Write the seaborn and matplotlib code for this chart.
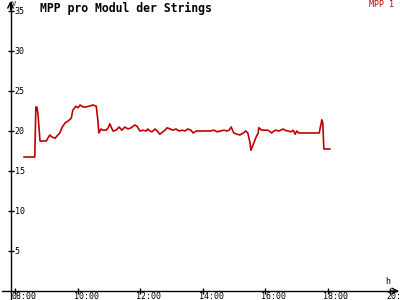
import matplotlib
matplotlib.use('Agg')
import matplotlib.pyplot as plt
import matplotlib.transforms as mtransforms
import seaborn as sns
import pandas as pd

# ---- data ----
times = ["08:17", "08:38", "08:40", "08:42", "08:44", "08:48", "08:54", "09:00",
         "09:03", "09:07", "09:11", "09:17", "09:21", "09:26", "09:30", "09:36",
         "09:42", "09:48", "09:51", "09:57", "10:01", "10:05", "10:11", "10:16",
         "10:22", "10:30", "10:36", "10:39", "10:41", "10:45", "10:49", "10:55",
         "10:59", "11:02", "11:08", "11:14", "11:20", "11:25", "11:31", "11:37",
         "11:43", "11:50", "11:54", "12:00", "12:06", "12:12", "12:15", "12:19",
         "12:23", "12:29", "12:33", "12:38", "12:44", "12:48", "12:52", "12:58",
         "13:03", "13:09", "13:15", "13:21", "13:26", "13:32", "13:38", "13:42",
         "13:48", "14:05", "14:14", "14:22", "14:28", "14:34", "14:41", "14:47",
         "14:51", "14:55", "15:00", "15:06", "15:12", "15:18", "15:23", "15:27",
         "15:31", "15:33", "15:37", "15:43", "15:47", "15:48", "15:54", "16:00",
         "16:06", "16:13", "16:17", "16:21", "16:27", "16:35", "16:38", "16:44",
         "16:50", "16:54", "16:58", "17:01", "17:05", "17:44", "17:48", "17:49",
         "17:51", "17:53", "18:05"]
mpp1 = [16.75, 16.75, 23.0, 23.0, 22.2, 18.75, 18.75, 18.75,
        19.1, 19.5, 19.25, 19.1, 19.4, 19.75, 20.4, 21.0,
        21.25, 21.6, 22.6, 23.1, 22.9, 23.25, 23.0, 23.0,
        23.1, 23.25, 23.1, 21.4, 19.75, 20.25, 20.1, 20.1,
        20.4, 20.9, 20.0, 20.1, 20.5, 20.1, 20.5, 20.25,
        20.4, 20.75, 20.6, 20.0, 20.1, 20.0, 20.25, 20.0,
        19.9, 20.25, 20.0, 19.6, 19.9, 20.1, 20.4, 20.25,
        20.1, 20.25, 20.0, 20.1, 20.0, 20.25, 20.1, 19.75,
        20.0, 20.0, 20.0, 20.1, 19.9, 20.0, 20.1, 20.0,
        20.1, 20.5, 19.75, 19.6, 19.5, 19.75, 20.0, 19.75,
        18.6, 17.6, 18.25, 19.25, 19.75, 20.4, 20.1, 20.1,
        20.1, 19.75, 20.0, 20.1, 20.0, 20.25, 20.1, 20.0,
        19.9, 20.1, 19.6, 20.0, 19.75, 19.75, 21.0, 21.4,
        21.0, 17.75, 17.75]
x_ticks = [8, 10, 12, 14, 16, 18, 20]
x_tick_labels = ["08:00", "10:00", "12:00", "14:00", "16:00", "18:00", "20:00"]
y_ticks = [5, 10, 15, 20, 25, 30, 35]
y_tick_labels = ["5", "10", "15", "20", "25", "30", "35"]
title = "MPP pro Modul der Strings"
series_name = "MPP 1"
y_unit = "V"
x_unit = "h"

RED = "#c00000"

sns.set_style("white")
plt.rcParams['font.family'] = ['DejaVu Sans Mono', 'DejaVu Sans']

fig = plt.figure(figsize=(4, 3), dpi=100)
ax = fig.add_axes([0, 0, 1, 1])
ax.set_facecolor("white")

hours = [int(t[:2]) + int(t[3:]) / 60 for t in times]
df = pd.DataFrame({"h": hours, "v": mpp1})
sns.lineplot(data=df, x="h", y="v", ax=ax, color=RED, lw=1.2, legend=False)

# pixel geometry: 08:00 at px 15, 31.25 px/hour; 0 V at py 291, 8 px/V
x0 = 8 - 15 / 31.25
x1 = 8 + 385 / 31.25
ax.set_xlim(x0, x1)
ax.set_ylim((291 - 300) / 8, 291 / 8)
yaxis_x = 8 + (10.5 - 15) / 31.25

for s in ["top", "right"]:
    ax.spines[s].set_visible(False)
ax.spines["left"].set_position(("data", yaxis_x))
ax.spines["bottom"].set_position(("data", 0))
ax.spines["left"].set_color("black")
ax.spines["bottom"].set_color("black")
ax.spines["left"].set_linewidth(1.0)
ax.spines["bottom"].set_linewidth(1.0)
ax.spines["bottom"].set_bounds(8 + (2 - 15) / 31.25, 8 + (397 - 15) / 31.25)
ax.spines["left"].set_bounds(-1.125, (291 - 2) / 8)

# arrow heads
ax.annotate("", xy=(8 + (399 - 15) / 31.25, 0), xytext=(8 + (390 - 15) / 31.25, 0),
            arrowprops=dict(arrowstyle="->", lw=1.0, color="black", shrinkA=0, shrinkB=0))
ax.annotate("", xy=(yaxis_x, (291 - 1) / 8), xytext=(yaxis_x, (291 - 10) / 8),
            arrowprops=dict(arrowstyle="->", lw=1.0, color="black", shrinkA=0, shrinkB=0))

ax.set_xticks(x_ticks)
ax.set_xticklabels(x_tick_labels)
ax.set_yticks(y_ticks)
ax.set_yticklabels(y_tick_labels)
ax.tick_params(axis="both", which="major", direction="inout", length=4.3, width=1.0,
               color="black", labelsize=6, labelcolor="black",
               bottom=True, left=True, top=False, right=False)
ax.tick_params(axis="y", pad=-5.2)
ax.tick_params(axis="x", pad=-1.2)
for lab in ax.get_yticklabels():
    lab.set_ha("left")
offset = mtransforms.ScaledTranslation(-0.04, 0, fig.dpi_scale_trans)
for lab in ax.get_xticklabels():
    lab.set_ha("left")
    lab.set_transform(lab.get_transform() + offset)
ax.set_xlabel("")
ax.set_ylabel("")

fig.text(40 / 400, 1 - 8 / 300, title, ha="left", va="center", fontsize=8.3,
         fontweight="bold", color="black")
fig.text(394 / 400, 1 - 4.8 / 300, series_name, ha="right", va="center", fontsize=6,
         color=RED)
fig.text(12 / 400, 1 - 0.5 / 300, y_unit, ha="left", va="top", fontsize=5, color="black")
fig.text(385 / 400, 1 - 282 / 300, x_unit, ha="left", va="center", fontsize=6, color="black")

fig.savefig("out.png", dpi=100, facecolor="white")
